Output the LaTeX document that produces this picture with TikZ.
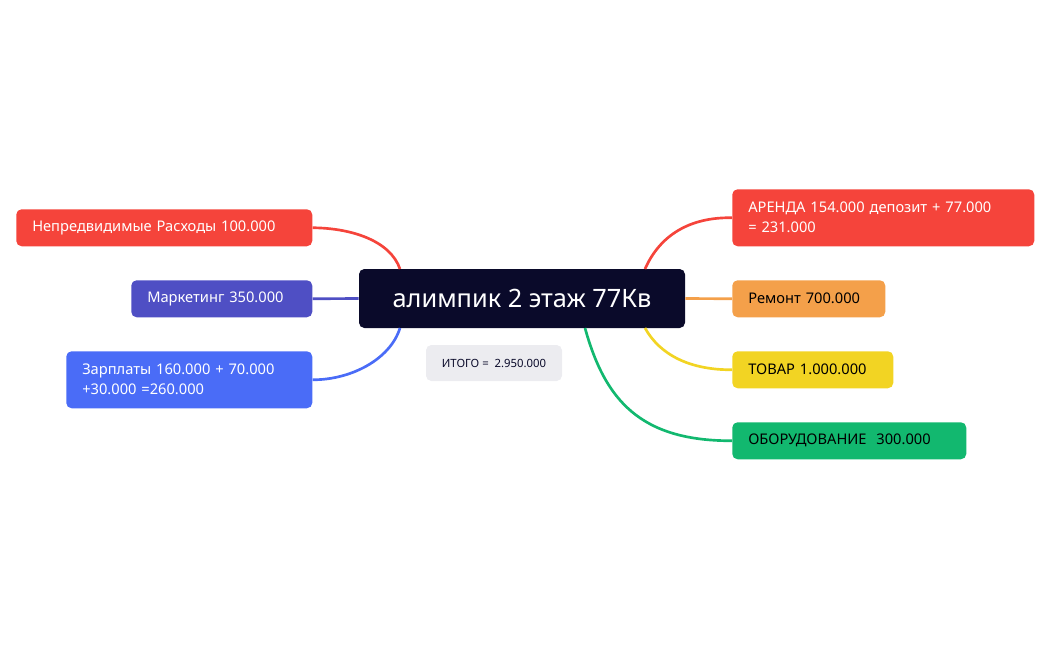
\documentclass[tikz,border=0pt]{standalone}
\usepackage{fontspec}
\setmainfont{Noto Sans}
\definecolor{cred}{HTML}{F5443B}
\definecolor{cpur}{HTML}{4F4FC4}
\definecolor{cblue}{HTML}{4A6CF7}
\definecolor{corange}{HTML}{F4A04A}
\definecolor{cyel}{HTML}{F2D423}
\definecolor{cgreen}{HTML}{12B86F}
\definecolor{cdark}{HTML}{0A0A2A}
\definecolor{cgray}{HTML}{ECECF0}
\begin{document}
\begin{tikzpicture}[x=0.75pt,y=-0.75pt,
 box/.style={anchor=north west,rounded corners=4pt,inner xsep=12pt,inner ysep=0pt,align=left,font=\fontsize{11}{15}\selectfont,minimum height=27.75pt},
 wtext/.style={text=white},
 link/.style={line width=2pt}]
\useasboundingbox (0,0) rectangle (1050,650);
\node[fill=cdark,text=white,rounded corners=4pt,minimum width=244.5pt,minimum height=44.25pt,font=\fontsize{19}{22}\selectfont] (c) at (522,298.5) {алимпик 2 этаж 77Кв};
\node[fill=cgray,rounded corners=4pt,minimum width=102pt,minimum height=27pt,font=\fontsize{8.5}{10}\selectfont,text=cdark] (it) at (494,363) {ИТОГО =\ \ 2.950.000};
\node[box,wtext,fill=cred,text width=198pt] (n1) at (16,209) {Непредвидимые Расходы 100.000};
\node[box,wtext,fill=cpur,text width=111.75pt] (n2) at (131,280) {Маркетинг 350.000};
\node[box,wtext,fill=cblue,text width=160.5pt,minimum height=42.75pt] (n3) at (66,351) {Зарплаты 160.000 + 70.000\\+30.000 =260.000};
\node[box,wtext,fill=cred,text width=202.5pt,minimum height=42.75pt] (r1) at (732,189) {АРЕНДА 154.000 депозит + 77.000\\= 231.000};
\node[box,fill=corange,text width=90.75pt] (r2) at (732,280) {Ремонт 700.000};
\node[box,fill=cyel,text width=96.75pt] (r3) at (732,351) {ТОВАР 1.000.000};
\node[box,fill=cgreen,text width=151.5pt] (r4) at (732,422) {ОБОРУДОВАНИЕ\ \ 300.000};
\begin{scope}[on background layer/.style={}]
\end{scope}
\coordinate (c1) at (400,269); \coordinate (c3) at (400,328);
\coordinate (d1) at (645,269); \coordinate (d3) at (645,328); \coordinate (d4) at (585,328);
\draw[link,cred] (c1) .. controls (390,240) and (350,228) .. (n1.east);
\draw[link,cpur] (c.west) -- (n2.east);
\draw[link,cblue] (c3) .. controls (390,360) and (350,380) .. (n3.east);
\draw[link,cred] (d1) .. controls (660,235) and (690,217) .. (r1.west);
\draw[link,corange] (c.east) -- (r2.west);
\draw[link,cyel] (d3) .. controls (660,355) and (690,370) .. (r3.west);
\draw[link,cgreen] (d4) .. controls (605,400) and (640,441) .. (r4.west);
\end{tikzpicture}
\end{document}
